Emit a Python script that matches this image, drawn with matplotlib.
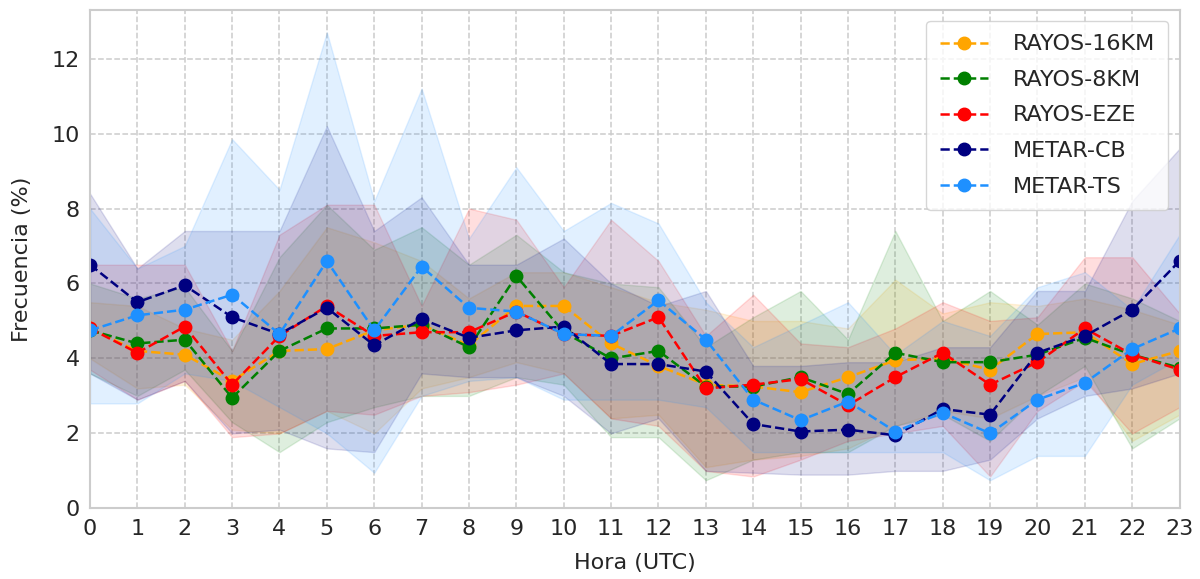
import numpy as np
import matplotlib
matplotlib.use("Agg")
import matplotlib.pyplot as plt
import seaborn as sns

horas = list(range(24))

# medias por hora (%)
rayos16 = [4.8, 4.2, 4.1, 3.4, 4.2, 4.25, 4.75, 4.9, 4.35, 5.4, 5.4, 4.4,
           3.8, 3.3, 3.25, 3.1, 3.5, 3.95, 4.0, 3.7, 4.65, 4.7, 3.85, 4.2]
rayos8 = [4.75, 4.4, 4.5, 2.95, 4.2, 4.8, 4.8, 4.9, 4.3, 6.2, 4.7, 4.0,
          4.2, 3.25, 3.25, 3.5, 3.05, 4.15, 3.9, 3.9, 4.1, 4.55, 4.1, 3.75]
rayos_eze = [4.8, 4.15, 4.85, 3.3, 4.6, 5.4, 4.6, 4.7, 4.7, 5.25, 4.65, 4.6,
             5.1, 3.2, 3.3, 3.45, 2.75, 3.5, 4.15, 3.3, 3.9, 4.8, 4.1, 3.7]
metar_cb = [6.5, 5.5, 5.95, 5.1, 4.65, 5.35, 4.35, 5.05, 4.55, 4.75, 4.85, 3.85,
            3.85, 3.65, 2.25, 2.05, 2.1, 1.95, 2.65, 2.5, 4.15, 4.6, 5.3, 6.6]
metar_ts = [4.75, 5.15, 5.3, 5.7, 4.65, 6.6, 4.75, 6.45, 5.35, 5.25, 4.65, 4.6,
            5.55, 4.5, 2.9, 2.35, 2.85, 2.05, 2.55, 2.0, 2.9, 3.35, 4.25, 4.8]

# rangos (banda sombreada)
rayos16_sup = [5.5, 5.4, 4.8, 4.5, 5.8, 7.5, 7.1, 6.6, 5.6, 6.3, 6.3, 5.9,
               5.5, 5.3, 5.0, 5.0, 4.8, 6.1, 5.2, 5.5, 5.4, 5.6, 5.3, 4.9]
rayos16_inf = [4.0, 3.2, 3.3, 2.1, 2.0, 2.6, 2.0, 3.2, 3.5, 3.9, 3.6, 2.4,
               2.5, 1.1, 1.3, 1.4, 1.6, 2.2, 2.6, 2.4, 3.0, 3.5, 1.8, 2.5]
rayos8_sup = [6.0, 5.6, 5.9, 4.2, 6.7, 8.1, 6.9, 7.5, 6.5, 7.3, 6.3, 6.0,
              5.9, 4.3, 5.1, 5.8, 4.5, 7.4, 5.0, 5.8, 4.9, 6.0, 5.6, 5.0]
rayos8_inf = [3.6, 3.0, 3.7, 2.3, 1.5, 2.3, 2.7, 3.0, 3.0, 3.5, 3.3, 1.9,
              1.9, 0.75, 1.3, 1.5, 1.5, 2.2, 2.5, 1.8, 3.0, 3.8, 1.6, 2.4]
rayos_eze_sup = [6.5, 6.5, 6.5, 4.2, 7.3, 8.1, 8.1, 5.4, 8.0, 7.7, 5.9, 7.7,
                 6.6, 4.6, 5.7, 4.4, 4.3, 4.8, 5.5, 5.0, 5.1, 6.7, 6.7, 5.2]
rayos_eze_inf = [3.7, 2.9, 3.4, 1.9, 2.0, 2.6, 2.5, 3.0, 3.1, 3.3, 3.6, 2.4,
                 2.2, 1.0, 0.85, 1.3, 1.8, 2.0, 2.2, 0.85, 2.6, 3.4, 2.0, 2.7]
metar_cb_sup = [8.4, 6.4, 7.4, 7.4, 7.4, 10.2, 7.4, 8.3, 6.5, 6.5, 7.2, 6.0,
                5.4, 5.8, 3.8, 3.8, 3.9, 3.9, 4.3, 4.3, 5.8, 5.8, 8.2, 9.6]
metar_cb_inf = [3.6, 2.9, 3.4, 2.0, 2.1, 1.6, 1.5, 3.6, 3.5, 3.5, 3.0, 2.0,
                2.4, 1.0, 0.95, 0.9, 0.9, 1.0, 1.0, 1.3, 2.4, 3.0, 3.2, 3.6]
metar_ts_sup = [8.0, 6.4, 7.0, 9.85, 8.5, 12.7, 8.2, 11.2, 7.2, 9.1, 7.4, 8.15,
                7.6, 5.5, 4.3, 4.9, 5.5, 4.1, 5.0, 4.6, 5.9, 6.3, 5.3, 7.3]
metar_ts_inf = [2.8, 2.8, 3.6, 3.4, 2.7, 2.0, 0.95, 3.0, 3.4, 3.5, 2.9, 2.9,
                2.9, 2.7, 1.5, 1.5, 1.5, 1.5, 1.5, 0.75, 1.4, 1.4, 3.3, 4.0]

nombres = ["RAYOS-16KM", "RAYOS-8KM", "RAYOS-EZE", "METAR-CB", "METAR-TS"]
colores = ["orange", "green", "red", "navy", "dodgerblue"]
medias = [rayos16, rayos8, rayos_eze, metar_cb, metar_ts]
sups = [rayos16_sup, rayos8_sup, rayos_eze_sup, metar_cb_sup, metar_ts_sup]
infs = [rayos16_inf, rayos8_inf, rayos_eze_inf, metar_cb_inf, metar_ts_inf]

sns.set_style("whitegrid", {"grid.linestyle": "--"})

fig = plt.figure(figsize=(12, 5.79), dpi=100)
ax = fig.add_axes([0.075, 0.122, 0.908, 0.861])

for nom, col, m, s, i in zip(nombres, colores, medias, sups, infs):
    ax.fill_between(horas, i, s, color=col, alpha=0.13)
    ax.plot(horas, m, "--o", color=col, label=nom, markersize=9, linewidth=1.8)

ax.set_xlim(0, 23)
ax.set_ylim(0, 13.3)
ax.set_xticks(horas)
ax.set_yticks([0, 2, 4, 6, 8, 10, 12])
ax.tick_params(labelsize=16, pad=4)
ax.set_xlabel("Hora (UTC)", fontsize=16, labelpad=10)
ax.set_ylabel("Frecuencia (%)", fontsize=16, labelpad=14)
ax.grid(True, linestyle="--", color="#cccccc", linewidth=1.1)
for sp in ax.spines.values():
    sp.set_color("#cccccc")
    sp.set_linewidth(1.5)
ax.legend(loc="upper right", fontsize=16, handlelength=2.2, handletextpad=1.1,
          labelspacing=0.7, borderpad=0.6)

fig.savefig("out.png", dpi=100)
